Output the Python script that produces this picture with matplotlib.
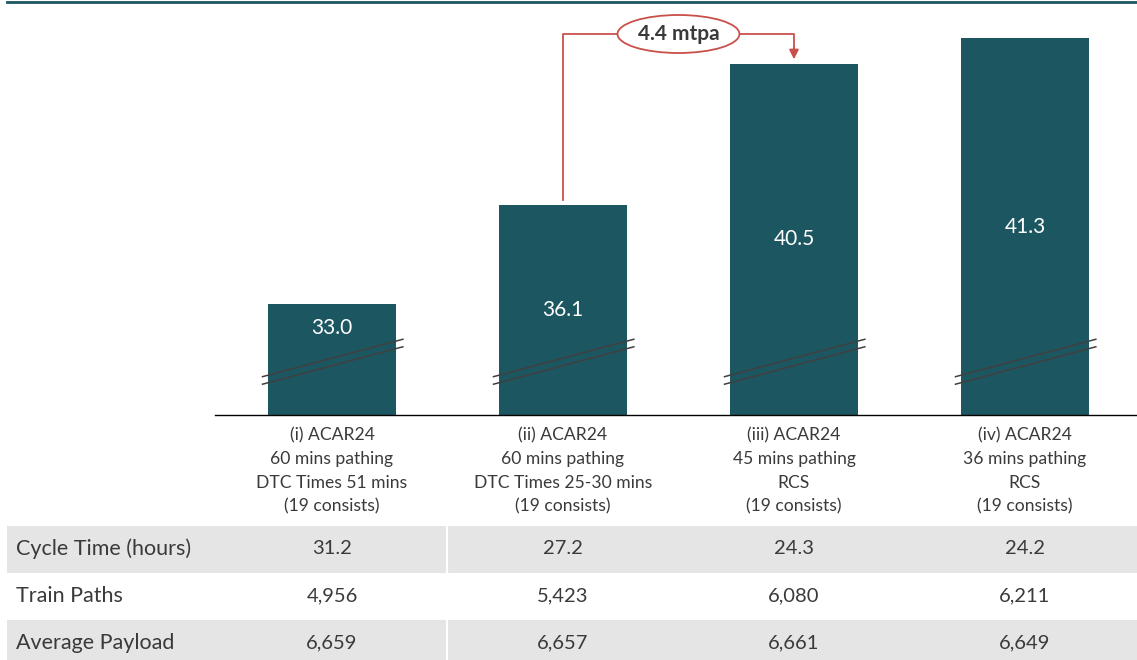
import matplotlib
matplotlib.use("Agg")
import matplotlib.pyplot as plt
from matplotlib.patches import Ellipse

plt.rcParams['font.family'] = ['Lato', 'DejaVu Sans']

# bar data
categories = [
    "(i) ACAR24\n60 mins pathing\nDTC Times 51 mins\n(19 consists)",
    "(ii) ACAR24\n60 mins pathing\nDTC Times 25-30 mins\n(19 consists)",
    "(iii) ACAR24\n45 mins pathing\nRCS\n(19 consists)",
    "(iv) ACAR24\n36 mins pathing\nRCS\n(19 consists)",
]
capacity = [33.0, 36.1, 40.5, 41.3]
uplift_text = "4.4 mtpa"

# table rows under the chart
row_labels = ["Cycle Time (hours)", "Train Paths", "Average Payload"]
cycle_time = ["31.2", "27.2", "24.3", "24.2"]
train_paths = ["4,956", "5,423", "6,080", "6,211"]
avg_payload = ["6,659", "6,657", "6,661", "6,649"]

TEAL = "#1c5661"
RED = "#c9504a"
GREY_TXT = "#3a3a3a"
ROW_GREY = "#e5e5e5"

W, H = 1137, 660
fig = plt.figure(figsize=(W / 100, H / 100), dpi=100)


def px_rect(x0, y0, x1, y1):
    # pixel box (top-left origin) -> figure fraction rect
    return [x0 / W, 1 - y1 / H, (x1 - x0) / W, (y1 - y0) / H]


# thin teal rule across the top
fig.add_artist(plt.Line2D([7 / W, 1], [1 - 1.5 / H, 1 - 1.5 / H], color=TEAL, lw=2))

# ---- bar chart ----
ax = fig.add_axes(px_rect(215, 1, W, 415))
xs = list(range(len(capacity)))
ylo, yhi = 29.54, 42.46
ax.bar(xs, capacity, width=0.554, color=TEAL, zorder=2)
ax.set_xlim(-0.5065, 3.485)
ax.set_ylim(ylo, yhi)

for s in ["top", "right", "left"]:
    ax.spines[s].set_visible(False)
ax.spines["bottom"].set_color("black")
ax.spines["bottom"].set_linewidth(1.0)
ax.set_yticks([])
ax.set_xticks(xs)
ax.set_xticklabels(categories, fontsize=12.6, color=GREY_TXT, linespacing=1.58)
ax.tick_params(axis="x", length=0, pad=9)

# axis-break marks across every bar
for x in xs:
    for dy in (0.0, -0.235):
        ax.plot([x - 0.304, x + 0.31], [30.73 + dy, 31.91 + dy],
                color="#404040", lw=1.1, zorder=3, solid_capstyle="butt")

# value labels inside bars
for x, v in zip(xs, capacity):
    base = 31.5 if v < 34 else ylo
    ax.text(x, (v + base) / 2, f"{v:.1f}", color="white", fontsize=15,
            ha="center", va="center", zorder=4)

# uplift connector from bar (ii) to bar (iii)
y_link = 41.43
ax.plot([1, 1, 2, 2], [capacity[1] + 0.15, y_link, y_link, 40.9],
        color=RED, lw=1.3, zorder=3, clip_on=False)
ax.annotate("", xy=(2, capacity[2] + 0.14), xytext=(2, 41.0),
            arrowprops=dict(arrowstyle="-|>", color=RED, lw=1.3,
                            mutation_scale=14, shrinkA=0, shrinkB=0),
            zorder=3)
ax.add_patch(Ellipse((1.5, y_link), 0.528, 1.186, facecolor="white",
                     edgecolor=RED, lw=1.3, zorder=4, clip_on=False))
ax.text(1.5, y_link, uplift_text, fontsize=15, fontweight="bold", color=GREY_TXT,
        ha="center", va="center", zorder=5)

# ---- data table ----
tab = fig.add_axes(px_rect(7, 526, W, H))
tab.set_xlim(-1.407, 3.485)
tab.set_ylim((H - 526) / 47, 0)
tab.axis("off")

rows = [cycle_time, train_paths, avg_payload]
for i, (label, vals) in enumerate(zip(row_labels, rows)):
    if i % 2 == 0:
        tab.axhspan(i, i + 1, color=ROW_GREY, lw=0)
        tab.plot([0.5, 0.5], [i, i + 1], color="white", lw=1.5)
    tab.text(-1.368, i + 0.48, label, fontsize=15.5, color=GREY_TXT, va="center", ha="left")
    for x, v in zip(xs, vals):
        tab.text(x, i + 0.48, v, fontsize=14.5, color=GREY_TXT, va="center", ha="center")

fig.savefig("out.png", dpi=100)
